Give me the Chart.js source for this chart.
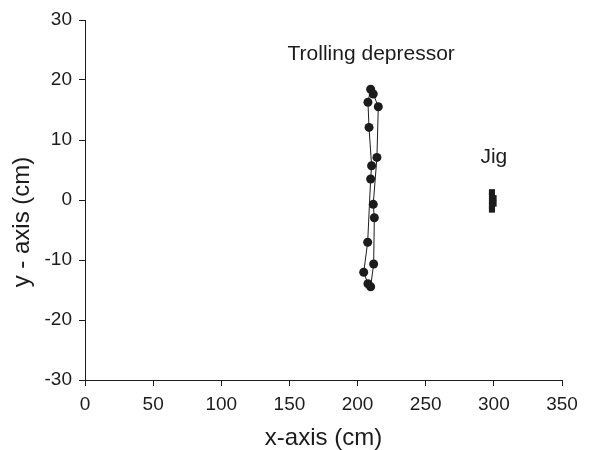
<!DOCTYPE html>
<html>
<head>
<meta charset="utf-8">
<script src="https://cdn.jsdelivr.net/npm/chart.js@4"></script>
<style>
  html, body { margin: 0; padding: 0; background: #fff; }
  #wrap { width: 599px; height: 450px; }
</style>
</head>
<body>
<div id="wrap"><canvas id="c" width="599" height="450"></canvas></div>
<script>
// Trolling depressor track (x, y in cm), in drawing order
const trollX = [209.6, 207.6, 208.4, 210.3, 209.6, 207.4, 204.5, 207.6, 209.6, 211.8, 212.3, 211.5, 214.2, 215.2, 211.5];
const trollY = [18.45, 16.3, 12.1, 5.7, 3.5, -7.05, -12.05, -13.95, -14.45, -10.67, -2.95, -0.72, 7.1, 15.55, 17.67];
// Jig positions (x, y in cm)
const jigX = [298.6, 298.6, 299.8, 298.6, 299.8, 298.6, 298.6];
const jigY = [1.3, 0.7, 0.3, -0.2, -0.6, -1.0, -1.6];
// Axis ticks
const xTicks = [0, 50, 100, 150, 200, 250, 300, 350];
const yTicks = [-30, -20, -10, 0, 10, 20, 30];
// Text labels
const labels = [
  { text: 'Trolling depressor', x: 210, y: 24.3 },
  { text: 'Jig', x: 300, y: 7.2 }
];
const xTitle = 'x-axis (cm)';
const yTitle = 'y - axis (cm)';

const troll = trollX.map((x, i) => ({ x, y: trollY[i] }));
const jig = jigX.map((x, i) => ({ x, y: jigY[i] }));
const ink = '#1c1c1c';
const FONT = '"Liberation Sans", Arial, sans-serif';

const labelPlugin = {
  id: 'labels',
  afterDatasetsDraw(chart) {
    const ctx = chart.ctx;
    const xs = chart.scales.x, ys = chart.scales.y;
    ctx.save();
    ctx.fillStyle = ink;
    ctx.font = '21px ' + FONT;
    ctx.textAlign = 'center';
    ctx.textBaseline = 'middle';
    labels.forEach(l => ctx.fillText(l.text, xs.getPixelForValue(l.x), ys.getPixelForValue(l.y)));
    // axis titles
    ctx.font = '24px ' + FONT;
    ctx.fillText(xTitle, (xs.left + xs.right) / 2, 438);
    ctx.translate(22, 222);
    ctx.rotate(-Math.PI / 2);
    ctx.fillText(yTitle, 0, 0);
    ctx.restore();
  }
};

new Chart(document.getElementById('c'), {
  type: 'scatter',
  data: {
    datasets: [
      {
        data: troll,
        showLine: true,
        borderColor: ink,
        borderWidth: 1,
        backgroundColor: ink,
        pointBackgroundColor: ink,
        pointBorderWidth: 0,
        pointRadius: 4.5,
        pointStyle: 'circle'
      },
      {
        data: jig,
        showLine: false,
        backgroundColor: ink,
        pointBackgroundColor: ink,
        pointBorderWidth: 0,
        pointRadius: 4.3,
        pointStyle: 'rect'
      }
    ]
  },
  options: {
    responsive: false,
    animation: false,
    devicePixelRatio: 1,
    layout: { padding: { top: 20, right: 37, left: 0, bottom: 0 } },
    plugins: { legend: { display: false }, tooltip: { enabled: false } },
    scales: {
      x: {
        type: 'linear',
        min: 0, max: 350,
        afterBuildTicks: s => { s.ticks = xTicks.map(v => ({ value: v })); },
        afterFit: s => { s.height = 70; },
        border: { display: true, color: ink, width: 1 },
        grid: { display: true, drawOnChartArea: false, drawTicks: true, tickLength: 6, color: ink },
        ticks: { color: ink, padding: 7, font: { family: FONT, size: 19 }, maxRotation: 0 },
        title: { display: false }
      },
      y: {
        type: 'linear',
        min: -30, max: 30,
        afterBuildTicks: s => { s.ticks = yTicks.map(v => ({ value: v })); },
        afterFit: s => { s.width = 85; },
        border: { display: true, color: ink, width: 1 },
        grid: { display: true, drawOnChartArea: false, drawTicks: true, tickLength: 6, color: ink },
        ticks: { color: ink, padding: 7, font: { family: FONT, size: 19 } },
        title: { display: false }
      }
    }
  },
  plugins: [labelPlugin]
});
</script>
</body>
</html>
